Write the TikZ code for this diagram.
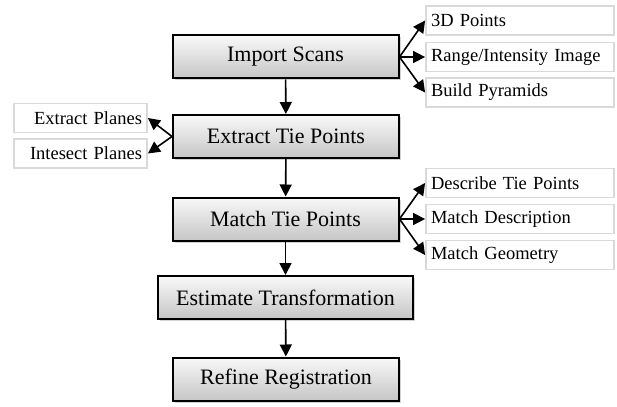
\documentclass[tikz,border=0pt]{standalone}
\usepackage{fontspec}
\setmainfont{Liberation Serif}
\newfontfamily\subfont[WordSpace=0.6]{Liberation Serif}
\usetikzlibrary{arrows.meta,shadows,positioning}

\begin{document}
\begin{tikzpicture}[x=1pt,y=-1pt,
  stage/.style={draw,line width=2pt,top color=gray!5,bottom color=gray!45,
    drop shadow={shadow xshift=2pt,shadow yshift=-2pt,opacity=.35},
    minimum width=226pt,minimum height=43pt,font=\fontsize{22}{24}\selectfont},
  sub/.style={draw=gray!30,line width=1.8pt,fill=white,minimum height=29pt,
    inner sep=5pt,font=\subfont\fontsize{18.5}{20}\selectfont},
  subr/.style={sub,text width=178pt,align=left},
  subl/.style={sub,text width=123pt,align=right},
  flow/.style={-{Triangle[length=12pt,width=12pt]},line width=1.6pt}]
  \useasboundingbox (0,0) rectangle (617,406);
  % main steps
  \node[stage] (imp) at (285.5,57) {Import Scans};
  \node[stage] (ext) at (286,136.5) {Extract Tie Points};
  \node[stage] (mat) at (285.5,219) {Match Tie Points};
  \node[stage,minimum width=255pt] (est) at (285.5,297.5) {Estimate Transformation};
  \node[stage] (ref) at (286,379) {Refine Registration};
  % sub steps
  \node[subr] (pts) at (520,20.5) {3D Points};
  \node[subr] (rng) at (520,57) {Range/Intensity Image};
  \node[subr] (pyr) at (520,92.5) {Build Pyramids};
  \node[subr] (dsc) at (520,183) {Describe Tie Points};
  \node[subr] (mds) at (520,219) {Match Description};
  \node[subr] (mgm) at (520,255) {Match Geometry};
  \node[subl] (pln) at (80.5,118) {Extract Planes};
  \node[subl] (isc) at (80.5,153.5) {Intesect Planes};
  % arrows
  \foreach \a/\b in {imp/ext,ext/mat,mat/est,est/ref}
    \draw[flow] (\a) -- (\b);
  \foreach \b in {pts,rng,pyr}
    \draw[flow] (imp.east) -- (\b.west);
  \foreach \b in {dsc,mds,mgm}
    \draw[flow] (mat.east) -- (\b.west);
  \foreach \b in {pln,isc}
    \draw[flow] (ext.west) -- (\b.east);
\end{tikzpicture}
\end{document}
